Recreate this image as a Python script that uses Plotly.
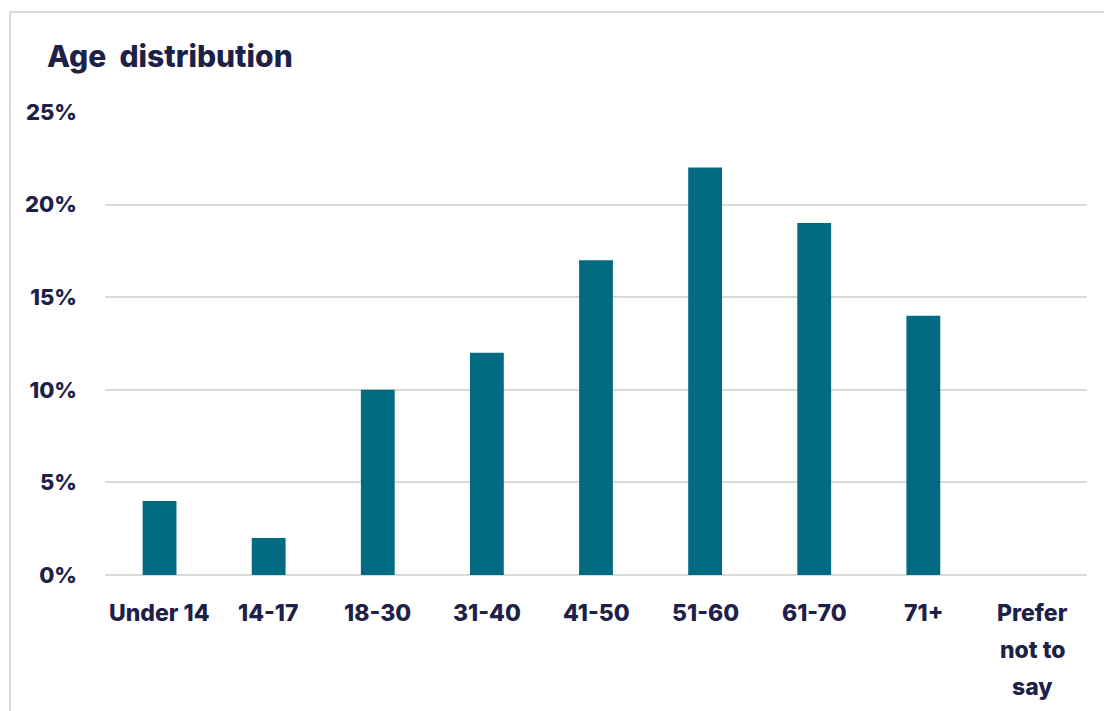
import plotly.graph_objects as go

categories = ["Under 14", "14-17", "18-30", "31-40", "41-50", "51-60", "61-70", "71+", "Prefer not to say"]
label_lines = [["Under 14"], ["14-17"], ["18-30"], ["31-40"], ["41-50"], ["51-60"], ["61-70"], ["71+"], ["Prefer", "not to", "say"]]
shares = [4, 2, 10, 12, 17, 22, 19, 14, 0]
y_ticks = [0, 5, 10, 15, 20, 25]
y_tick_labels = ["0%", "5%", "10%", "15%", "20%", "25%"]

TEXT = "#1d2147"
BAR = "#026b81"
GRID = "#d9d9d9"
FONT = "Inter"

# Plot area in page pixels
W, H = 1104, 711
L, R, T, B = 105, 17, 112, 136
PW, PH = W - L - R, H - T - B


def px_x(x):
    return (x - L) / PW


def px_y(y):
    return (H - B - y) / PH


fig = go.Figure(
    go.Bar(
        x=categories,
        y=shares,
        marker=dict(color=BAR, line=dict(width=0)),
        width=0.31,
    )
)

# Category labels, one line per annotation so the line spacing can be set freely
annotations = []
for cat, lines in zip(categories, label_lines):
    for i, line in enumerate(lines):
        annotations.append(dict(
            x=cat, y=0, xref="x", yref="y",
            text=line, showarrow=False,
            yanchor="middle", xanchor="center",
            yshift=-38 - 37 * i,
            font=dict(family=FONT, size=23, color=TEXT, weight=800),
        ))

annotations.append(dict(
    xref="paper", yref="paper", x=px_x(45), y=px_y(56),
    xanchor="left", yanchor="middle",
    text="Age&nbsp; distribution", showarrow=False,
    font=dict(family=FONT, size=30, color=TEXT, weight=800),
))

fig.update_layout(
    width=W, height=H,
    margin=dict(l=L, r=R, t=T, b=B),
    paper_bgcolor="white", plot_bgcolor="white",
    showlegend=False,
    annotations=annotations,
    xaxis=dict(
        type="category", showticklabels=False, showgrid=False,
        showline=False, zeroline=False, range=[-0.5, 8.5],
    ),
    yaxis=dict(
        range=[0, 25], tickvals=y_ticks, ticktext=y_tick_labels,
        showgrid=True, gridcolor=GRID, gridwidth=2,
        zeroline=True, zerolinecolor=GRID, zerolinewidth=2,
        showline=False, ticks="", ticklabelstandoff=27,
        tickfont=dict(family=FONT, size=22, color=TEXT, weight=800),
    ),
)

# Card frame: top and left borders
fig.add_shape(type="line", xref="paper", yref="paper",
              x0=px_x(10), x1=px_x(W), y0=px_y(12), y1=px_y(12),
              line=dict(color=GRID, width=2))
fig.add_shape(type="line", xref="paper", yref="paper",
              x0=px_x(10), x1=px_x(10), y0=px_y(12), y1=px_y(H),
              line=dict(color=GRID, width=2))

fig.write_html("out.html")
